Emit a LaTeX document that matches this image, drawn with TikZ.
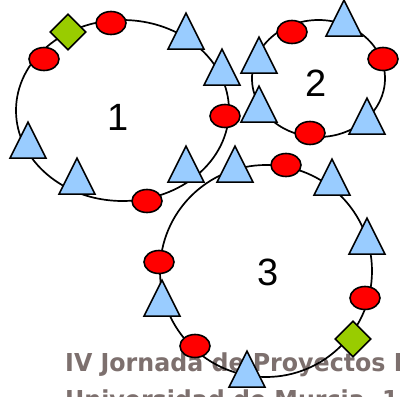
\documentclass[tikz,border=0pt]{standalone}
\usepackage{fontspec}
\setmainfont{Liberation Sans}
\newfontfamily\bannerfont[FakeStretch=0.96]{DejaVu Sans}
\usetikzlibrary{shapes.geometric}
\definecolor{triblue}{RGB}{153,204,255}
\definecolor{dotred}{RGB}{255,0,0}
\definecolor{diagreen}{RGB}{153,204,0}
\definecolor{bannergray}{RGB}{125,112,110}
\tikzset{
  ring/.style={draw=black, line width=1.7pt},
  tri/.style={isosceles triangle, isosceles triangle apex angle=53.13,
    isosceles triangle stretches, shape border rotate=90, draw=black,
    line width=1.6pt, fill=triblue, inner sep=0pt, minimum width=36pt, minimum height=36pt},
  dot/.style={ellipse, draw=black, line width=1.6pt, fill=dotred, inner sep=0pt,
    minimum width=30pt, minimum height=23pt},
  dia/.style={diamond, draw=black, line width=1.6pt, fill=diagreen, inner sep=0pt,
    minimum width=36pt, minimum height=36pt},
  lbl/.style={font=\fontsize{38}{40}\selectfont, inner sep=0pt},
  banner/.style={font=\bannerfont\bfseries\fontsize{24.7}{37}\selectfont, text=bannergray,
    inner sep=0pt, anchor=base west}
}
\begin{document}
\begin{tikzpicture}[x=1pt,y=-1pt]
\useasboundingbox (0,0) rectangle (400,397);
\clip (0,0) rectangle (400,397);
% banner text (behind)
\node[banner] (b1) at (65,371) {IV Jornada de Proyectos I};
\node[banner] (b2) at (65,408) {Universidad de Murcia, 17};
% rings
\node[ring, ellipse, minimum width=213pt, minimum height=181pt, inner sep=0pt] (ring1) at (122.5,110.5) {};
\node[ring, ellipse, minimum width=133pt, minimum height=117pt, inner sep=0pt] (ring2) at (318.5,78.5) {};
\node[ring, circle, minimum size=212pt, inner sep=0pt] (ring3) at (266,271) {};
% labels
\node[lbl] (l1) at (118,117) {1};
\node[lbl] (l2) at (316,83) {2};
\node[lbl] (l3) at (268,272) {3};
% ring 1 members
\node[dot] (r1a) at (111,23) {};
\node[dia] (d1) at (68,32) {};
\node[dot] (r1b) at (44,59) {};
\node[tri] (t1a) at (186,38) {};
\node[tri] (t1b) at (222,74) {};
\node[dot] (r1c) at (225,116) {};
\node[tri] (t1c) at (28,147) {};
\node[tri] (t1d) at (77,183) {};
\node[dot] (r1d) at (147,201) {};
\node[tri] (tA) at (186,171) {};
% ring 2 members
\node[dot] (r2a) at (292,32) {};
\node[tri] (t2a) at (344,25) {};
\node[dot] (r2b) at (383,59) {};
\node[tri] (t2b) at (367,123) {};
\node[dot] (r2c) at (310,133) {};
\node[tri] (t2c) at (259,111) {};
\node[tri] (t2d) at (259,62) {};
% ring 3 members
\node[tri] (tB) at (235,171) {};
\node[dot] (r3a) at (286,165) {};
\node[tri] (t3a) at (332,184) {};
\node[tri] (t3b) at (367,243) {};
\node[dot] (r3b) at (365,298) {};
\node[dia] (d3) at (353,339) {};
\node[tri] (t3c) at (247,376) {};
\node[dot] (r3c) at (195,346) {};
\node[tri] (t3d) at (162,305) {};
\node[dot] (r3d) at (159,262) {};
\end{tikzpicture}
\end{document}
